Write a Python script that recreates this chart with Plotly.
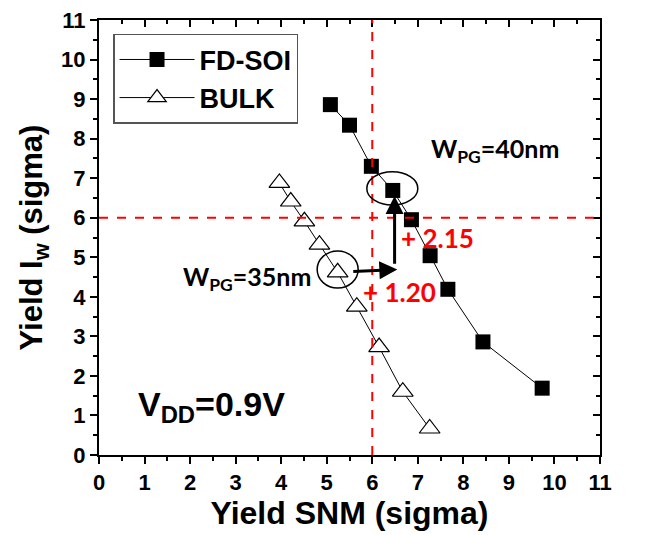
import plotly.graph_objects as go

fdsoi_x = [5.08, 5.50, 5.98, 6.45, 6.86, 7.27, 7.66, 8.43, 9.73]
fdsoi_y = [8.86, 8.34, 7.30, 6.69, 5.95, 5.04, 4.19, 2.86, 1.69]
bulk_x = [3.96, 4.21, 4.51, 4.84, 5.24, 5.66, 6.15, 6.67, 7.26]
bulk_y = [6.88, 6.41, 5.91, 5.32, 4.62, 3.75, 2.73, 1.60, 0.67]
ticks = list(range(0, 12))

AR = "Liberation Sans, Arial, sans-serif"
CAL = "Lato, Open Sans, sans-serif"

fig = go.Figure()
fig.add_trace(go.Scatter(x=fdsoi_x, y=fdsoi_y, mode="lines+markers", name="FD-SOI",
                         line=dict(color="black", width=1),
                         marker=dict(symbol="square", size=15, color="black")))
fig.add_trace(go.Scatter(x=bulk_x, y=bulk_y, mode="lines+markers", name="BULK",
                         line=dict(color="black", width=1),
                         marker=dict(symbol="triangle-up", size=18, color="white",
                                     line=dict(color="black", width=1.2))))
fig.add_trace(go.Scatter(x=[0], y=[0], xaxis="x2", yaxis="y2", mode="markers",
                         marker=dict(opacity=0), showlegend=False, hoverinfo="skip"))

fig.add_shape(type="line", x0=6, x1=6, y0=0, y1=11, line=dict(color="red", width=2, dash="dash"))
fig.add_shape(type="line", x0=0, x1=11, y0=6, y1=6, line=dict(color="red", width=2, dash="dash"))
fig.add_shape(type="circle", x0=4.79, x1=5.69, y0=4.22, y1=5.16, line=dict(color="black", width=1.5))
fig.add_shape(type="circle", x0=5.88, x1=7.00, y0=6.32, y1=7.16, line=dict(color="black", width=1.5))

fig.add_annotation(x=6.55, y=4.69, ax=5.55, ay=4.64, xref="x", yref="y", axref="x", ayref="y",
                   showarrow=True, arrowhead=2, arrowsize=1.2, arrowwidth=3, arrowcolor="black", text="")
fig.add_annotation(x=6.49, y=6.55, ax=6.49, ay=4.80, xref="x", yref="y", axref="x", ayref="y",
                   showarrow=True, arrowhead=2, arrowsize=1.2, arrowwidth=3, arrowcolor="black", text="")

fig.add_annotation(x=8.70, y=7.72, text="W<sub>PG</sub>=40nm", showarrow=False,
                   font=dict(family=CAL, size=25, color="black", weight="bold"))
fig.add_annotation(x=3.25, y=4.48, text="W<sub>PG</sub>=35nm", showarrow=False,
                   font=dict(family=CAL, size=25, color="black", weight="bold"))
fig.add_annotation(x=7.43, y=5.49, text="+ 2.15", showarrow=False,
                   font=dict(family=CAL, size=26, color="red", weight="bold"))
fig.add_annotation(x=6.59, y=4.13, text="+ 1.20", showarrow=False,
                   font=dict(family=CAL, size=26, color="red", weight="bold"))
fig.add_annotation(x=2.46, y=1.22, text="V<sub>DD</sub>=0.9V", showarrow=False,
                   font=dict(family=AR, size=34, color="black", weight="bold"))

axis_common = dict(range=[0, 11], tickvals=ticks, showgrid=False, zeroline=False,
                   showline=True, linecolor="black", linewidth=2, automargin=False,
                   ticklabeloverflow="allow")
fig.update_layout(
    width=649, height=535,
    margin=dict(l=91, r=57, t=12, b=88),
    plot_bgcolor="white", paper_bgcolor="white",
    xaxis=dict(**axis_common, ticks="outside", ticklen=7, tickwidth=2, tickcolor="black",
               minor=dict(dtick=0.5, ticks="outside", ticklen=4, tickwidth=1.5, tickcolor="black"),
               tickfont=dict(family=AR, size=22, color="black", weight="bold"),
               title=dict(text="Yield SNM (sigma)",
                          font=dict(family=AR, size=32, color="black", weight="bold"),
                          standoff=2)),
    yaxis=dict(**axis_common, ticks="outside", ticklen=7, tickwidth=2, tickcolor="black",
               minor=dict(dtick=0.5, ticks="outside", ticklen=4, tickwidth=1.5, tickcolor="black"),
               tickfont=dict(family=AR, size=22, color="black", weight="bold"),
               title=dict(text="Yield I<sub>w</sub> (sigma)",
                          font=dict(family=AR, size=31, color="black", weight="bold"),
                          standoff=9)),
    xaxis2=dict(**axis_common, overlaying="x", side="top", ticks="inside", ticklen=7, tickwidth=2,
                tickcolor="black", showticklabels=False,
                minor=dict(dtick=0.5, ticks="inside", ticklen=4, tickwidth=1.5, tickcolor="black")),
    yaxis2=dict(**axis_common, overlaying="y", side="right", ticks="inside", ticklen=7, tickwidth=2,
                tickcolor="black", showticklabels=False,
                minor=dict(dtick=0.5, ticks="inside", ticklen=4, tickwidth=1.5, tickcolor="black")),
    legend=dict(x=0.028, y=0.968, xanchor="left", yanchor="top", bgcolor="white",
                bordercolor="#555", borderwidth=1.5,
                font=dict(family=AR, size=27, color="black", weight="bold"), itemwidth=75,
                tracegroupgap=0),
    showlegend=True,
)
fig.write_html("out.html")
